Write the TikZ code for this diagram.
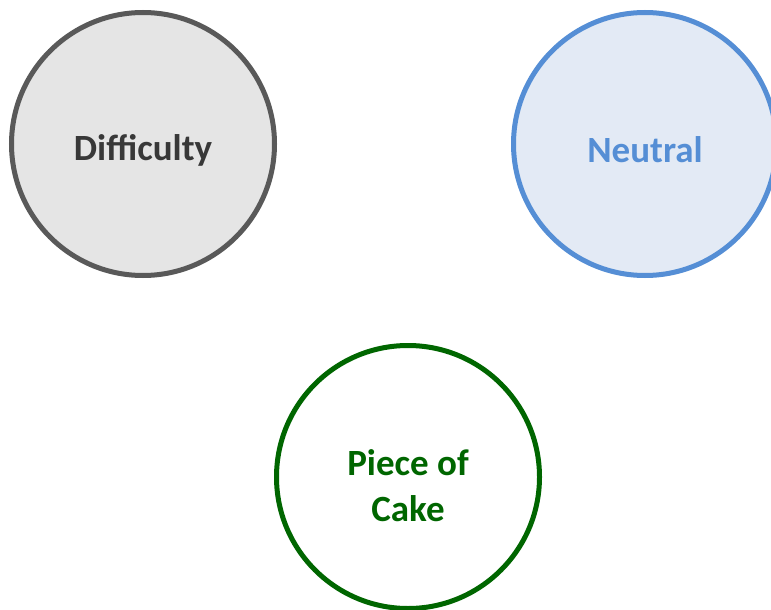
\documentclass[tikz,border=0pt]{standalone}
\usepackage{fontspec}
\setmainfont{Carlito}
\definecolor{grayline}{HTML}{595959}
\definecolor{grayfill}{HTML}{E5E5E5}
\definecolor{graytext}{HTML}{383838}
\definecolor{blueline}{HTML}{558ED5}
\definecolor{bluefill}{HTML}{E3EAF5}
\definecolor{greenline}{HTML}{006600}
\begin{document}
\begin{tikzpicture}[x=1pt,y=-1pt,
  bubble/.style={circle, line width=5pt, minimum size=263pt, inner sep=0pt},
  caption/.style={align=center, inner sep=0pt,
    font=\fontsize{37}{46}\selectfont\bfseries},
  hard/.style={bubble, draw=grayline, fill=grayfill},
  mid/.style={bubble, draw=blueline, fill=bluefill},
  easy/.style={bubble, draw=greenline, fill=white}]
  \useasboundingbox (0,0) rectangle (771,610);
  \clip (0,0) rectangle (771,610);
  \node[hard] (difficulty) at (143,144) {};
  \node[mid] (neutral) at (645,144) {};
  \node[easy] (cake) at (408,477) {};
  \node[caption, text=graytext] (difficulty-text) at (143,150) {Difficulty};
  \node[caption, text=blueline] (neutral-text) at (645,150) {Neutral};
  \node[caption, text=greenline] (cake-text) at (408,486) {Piece of\\Cake};
\end{tikzpicture}
\end{document}
